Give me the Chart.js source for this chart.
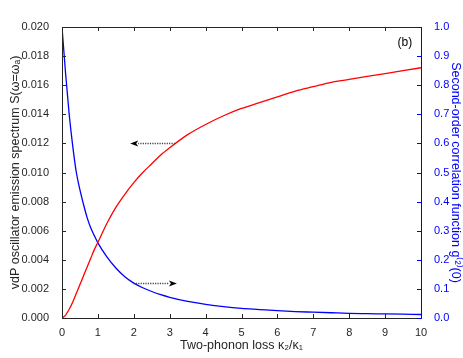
<!DOCTYPE html>
<html><head><meta charset="utf-8">
<script src="https://cdn.jsdelivr.net/npm/chart.js@4/dist/chart.umd.min.js"></script>
<style>html,body{margin:0;padding:0;background:#fff}#wrap{width:463px;height:358px}</style>
</head><body><div id="wrap"><canvas id="c" width="463" height="358"></canvas></div>
<script>
// kappa2/kappa1 sample positions
const kappaRatio = [0,0.1,0.2,0.3,0.4,0.5,0.6,0.7,0.8,0.9,1.0,1.25,1.5,1.75,2,2.25,2.5,2.75,3,3.5,4,4.5,5,5.5,6,6.5,7,7.5,8,8.5,9,9.5,10];
// vdP oscillator emission spectrum S(w=wa), left axis
const spectrumS = [0,0.0002,0.0006,0.0011,0.0017,0.0023,0.0029,0.0035,0.0041,0.0047,0.0052,0.0065,0.0076,0.0085,0.0093,0.0100,0.0106,0.0112,0.0117,0.0126,0.0133,0.0139,0.0144,0.0148,0.0152,0.0156,0.0159,0.0162,0.0164,0.0166,0.0168,0.0170,0.0172];
// second-order correlation g2(0), right axis
const g2zero = [1.0,0.84,0.70,0.59,0.50,0.44,0.39,0.345,0.31,0.283,0.258,0.21,0.172,0.142,0.12,0.104,0.091,0.080,0.071,0.057,0.047,0.039,0.033,0.029,0.025,0.022,0.020,0.018,0.016,0.015,0.014,0.013,0.012];
// annotation arrows: [xFrom, xTo, yValue]
const arrowLeft = [3.15, 1.9, 0.012];
const arrowRight = [1.99, 3.2, 0.119];
const panelLabel = '(b)';

const DARK = '#262626', BLUE = '#0000ff', RED = '#ff0000';
const FONT = '"Liberation Sans", Arial, Helvetica, sans-serif';

const boxPlugin = {
  id: 'boxTicks',
  afterDatasetsDraw(chart) {
    const ctx = chart.ctx, a = chart.chartArea;
    const sx = chart.scales.x, sy = chart.scales.y, sy1 = chart.scales.y1;
    const L = 4;
    ctx.save();
    ctx.lineWidth = 1;
    ctx.strokeStyle = DARK;
    ctx.beginPath();
    ctx.moveTo(a.right, a.top + 0.5); ctx.lineTo(a.left + 0.5, a.top + 0.5);
    ctx.lineTo(a.left + 0.5, a.bottom + 0.5); ctx.lineTo(a.right, a.bottom + 0.5);
    ctx.stroke();
    ctx.beginPath();
    sx.ticks.forEach((t, i) => {
      const px = Math.round(sx.getPixelForTick(i)) + 0.5;
      ctx.moveTo(px, a.bottom); ctx.lineTo(px, a.bottom - L);
      ctx.moveTo(px, a.top); ctx.lineTo(px, a.top + L);
    });
    sy.ticks.forEach((t, i) => {
      const py = Math.round(sy.getPixelForTick(i)) + 0.5;
      ctx.moveTo(a.left, py); ctx.lineTo(a.left + L, py);
    });
    ctx.stroke();
    ctx.strokeStyle = BLUE;
    ctx.beginPath();
    ctx.moveTo(a.right + 0.5, a.top); ctx.lineTo(a.right + 0.5, a.bottom + 1);
    sy1.ticks.forEach((t, i) => {
      const py = Math.round(sy1.getPixelForTick(i)) + 0.5;
      ctx.moveTo(a.right, py); ctx.lineTo(a.right - L, py);
    });
    ctx.stroke();
    function arrow(x0, x1, yv, scale) {
      const p0 = sx.getPixelForValue(x0), p1 = sx.getPixelForValue(x1);
      const py = Math.round(scale.getPixelForValue(yv)) + 0.5;
      const dir = Math.sign(p1 - p0);
      const head = 8;
      ctx.strokeStyle = '#444';
      ctx.lineWidth = 1.5;
      ctx.setLineDash([1.2, 1.2]);
      ctx.beginPath(); ctx.moveTo(p0, py); ctx.lineTo(p1 - dir * head, py); ctx.stroke();
      ctx.setLineDash([]);
      ctx.fillStyle = '#000';
      ctx.beginPath();
      ctx.moveTo(p1, py); ctx.lineTo(p1 - dir * head, py - 3); ctx.lineTo(p1 - dir * (head - 2), py); ctx.lineTo(p1 - dir * head, py + 3);
      ctx.closePath(); ctx.fill();
    }
    arrow(arrowLeft[0], arrowLeft[1], arrowLeft[2], sy);
    arrow(arrowRight[0], arrowRight[1], arrowRight[2], sy1);
    ctx.fillStyle = '#000';
    ctx.font = '12px ' + FONT;
    ctx.textAlign = 'center'; ctx.textBaseline = 'middle';
    ctx.fillText(panelLabel, sx.getPixelForValue(9.55), sy.getPixelForValue(0.0189));
    ctx.restore();
  }
};

new Chart(document.getElementById('c'), {
  type: 'line',
  data: {
    datasets: [
      { label: 'S', data: kappaRatio.map((x, i) => ({x, y: spectrumS[i]})), borderColor: RED, borderWidth: 1.3, pointRadius: 0, cubicInterpolationMode: 'monotone', yAxisID: 'y' },
      { label: 'g2', data: kappaRatio.map((x, i) => ({x, y: g2zero[i]})), borderColor: BLUE, borderWidth: 1.3, pointRadius: 0, cubicInterpolationMode: 'monotone', yAxisID: 'y1' }
    ]
  },
  options: {
    responsive: false, animation: false,
    layout: { padding: { top: 27, left: 8, right: 0, bottom: 5 } },
    plugins: { legend: { display: false }, tooltip: { enabled: false } },
    scales: {
      x: {
        type: 'linear', min: 0, max: 10,
        ticks: { stepSize: 1, color: DARK, font: { family: FONT, size: 11 }, padding: 0, maxRotation: 0 },
        grid: { display: false }, border: { display: false },
        title: { display: true, text: 'Two-phonon loss κ₂/κ₁', color: DARK, font: { family: FONT, size: 12.5 }, padding: { top: 0, bottom: 0 } },
        afterFit(s) { s.height = 35; }
      },
      y: {
        position: 'left', min: 0, max: 0.02,
        ticks: { stepSize: 0.002, color: DARK, font: { family: FONT, size: 11 }, padding: 5, callback: v => v.toFixed(3) },
        grid: { display: false }, border: { display: false },
        title: { display: true, text: 'vdP oscillator emission spectrum S(ω=ωₐ)', color: DARK, font: { family: FONT, size: 12.5 }, padding: { top: 0, bottom: 0 } },
        afterFit(s) { s.width = 54; }
      },
      y1: {
        position: 'right', min: 0, max: 1,
        ticks: { stepSize: 0.1, color: BLUE, font: { family: FONT, size: 11 }, padding: 5, callback: v => v.toFixed(1) },
        grid: { display: false }, border: { display: false },
        title: { display: true, text: 'Second-order correlation function g⁽²⁾(0)', color: BLUE, font: { family: FONT, size: 12.5 }, padding: { top: 0, bottom: 0 } },
        afterFit(s) { s.width = 42; }
      }
    }
  },
  plugins: [boxPlugin]
});
</script>
</body></html>
